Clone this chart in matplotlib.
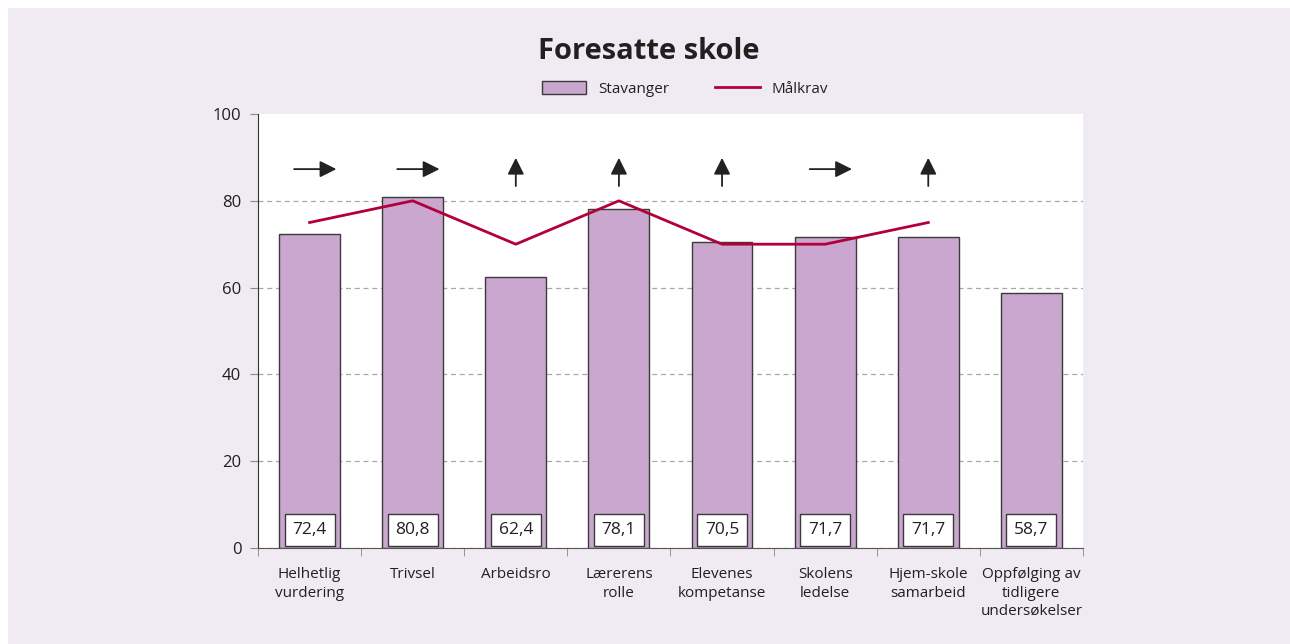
import numpy as np
import matplotlib.pyplot as plt
from matplotlib.patches import Rectangle

plt.rcParams["font.family"] = ["Open Sans", "DejaVu Sans"]

categories = ["Helhetlig\nvurdering", "Trivsel", "Arbeidsro", "Lærerens\nrolle",
              "Elevenes\nkompetanse", "Skolens\nledelse", "Hjem-skole\nsamarbeid",
              "Oppfølging av\ntidligere\nundersøkelser"]
stavanger = [72.4, 80.8, 62.4, 78.1, 70.5, 71.7, 71.7, 58.7]
maalkrav = [75, 80, 70, 80, 70, 70, 75, np.nan]
trend = ["right", "right", "up", "up", "up", "right", "up", None]

bg = "#f0eaf2"
bar_col = "#c9a7cf"
line_col = "#b4003a"
txt_col = "#231f20"

fig = plt.figure(figsize=(12.9, 6.44), dpi=100, facecolor="white")
fig.patches.append(Rectangle((8 / 1290, 0), 1, 1 - 8 / 644, transform=fig.transFigure,
                             facecolor=bg, edgecolor="none", zorder=-10))

ax = fig.add_axes([0.2, 0.149, 0.6395, 0.674])
x = np.arange(len(categories))

bars = ax.bar(x, stavanger, width=0.59, color=bar_col, edgecolor="#3a3a3a", linewidth=1,
              zorder=2, label="Stavanger")
line, = ax.plot(x, maalkrav, color=line_col, linewidth=2, zorder=3, label="Målkrav")

for xi, v in zip(x, stavanger):
    ax.text(xi, 4.1, f"{v:.1f}".replace(".", ","), ha="center", va="center",
            fontsize=12.5, color=txt_col, zorder=4,
            bbox=dict(boxstyle="square,pad=0.45", facecolor="white",
                      edgecolor="#3a3a3a", linewidth=1))

arrow_kw = dict(arrowstyle="-|>,head_length=1.0,head_width=0.5", color="#222222",
                linewidth=1.3, shrinkA=0, shrinkB=0)
for xi, d in zip(x, trend):
    if d == "right":
        ax.annotate("", xy=(xi + 0.26, 87.3), xytext=(xi - 0.15, 87.3),
                    arrowprops=arrow_kw, annotation_clip=False)
    elif d == "up":
        ax.annotate("", xy=(xi, 89.9), xytext=(xi, 83.4),
                    arrowprops=arrow_kw, annotation_clip=False)

ax.set_xlim(-0.5, len(categories) - 0.5)
ax.set_ylim(0, 100)
ax.set_yticks([0, 20, 40, 60, 80, 100])
ax.yaxis.grid(True, linestyle=(0, (4, 3)), color="#a8a8a8", linewidth=0.9, zorder=0)
ax.yaxis.get_gridlines()[-1].set_visible(False)
ax.set_axisbelow(True)
ax.set_facecolor("white")

ax.set_xticks(x)
ax.set_xticklabels(categories, fontsize=11, color=txt_col, linespacing=1.3)
ax.set_xticks(np.arange(-0.5, len(categories)), minor=True)
ax.tick_params(axis="x", which="major", length=0, pad=14)
ax.tick_params(axis="x", which="minor", length=6, color="#888888")
ax.tick_params(axis="y", length=6, color="#888888", labelsize=12,
               labelcolor=txt_col, pad=6)

for s in ["top", "right"]:
    ax.spines[s].set_visible(False)
ax.spines["left"].set_color("#333333")
ax.spines["bottom"].set_color("#555555")

fig.text(0.503, 0.92, "Foresatte skole", ha="center", va="center",
         fontsize=21, fontweight="bold", color=txt_col)

fig.legend(handles=[bars, line], labels=["Stavanger", "Målkrav"], loc="center",
           bbox_to_anchor=(0.531, 0.862), ncol=2, frameon=False,
           fontsize=11, handlelength=2.9, handleheight=0.9, columnspacing=3.0,
           labelcolor=txt_col)

fig.savefig("out.png", dpi=100, facecolor=fig.get_facecolor())
